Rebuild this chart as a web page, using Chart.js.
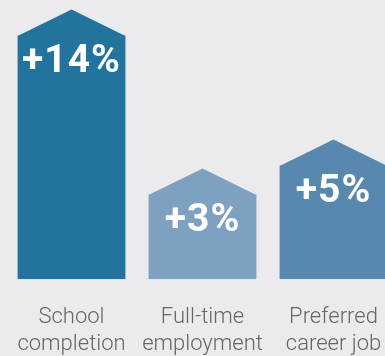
<!DOCTYPE html>
<html>
<head>
<meta charset="utf-8">
<script src="https://cdn.jsdelivr.net/npm/chart.js@4/dist/chart.umd.min.js"></script>
<style>
  html, body { margin: 0; padding: 0; background: #ebebed; overflow: hidden; }
  #wrap { width: 399px; height: 356px; }
</style>
</head>
<body>
<div id="wrap"><canvas id="chart"></canvas></div>
<script>
const categories = [['School', 'completion'], ['Full-time', 'employment'], ['Preferred', 'career job']]
const increases = [14, 3, 5]
const valueLabels = ['+14%', '+3%', '+5%']
const barColors = ['#23739f', '#7ea1c2', '#5988ae']

// roof and percentage text on top of each bar
const housePlugin = {
  id: 'house',
  afterDatasetsDraw(chart) {
    const ctx = chart.ctx
    const meta = chart.getDatasetMeta(0)
    meta.data.forEach((bar, i) => {
      const half = bar.width / 2
      ctx.save()
      ctx.fillStyle = barColors[i]
      ctx.beginPath()
      ctx.moveTo(bar.x - half, bar.y + 0.5)
      ctx.lineTo(bar.x, bar.y - 26)
      ctx.lineTo(bar.x + half, bar.y + 0.5)
      ctx.closePath()
      ctx.fill()
      ctx.fillStyle = '#ffffff'
      ctx.font = 'bold 39px "Roboto", sans-serif'
      ctx.letterSpacing = '1px'
      ctx.textAlign = 'center'
      ctx.textBaseline = 'middle'
      ctx.fillText(valueLabels[i], bar.x, bar.y + 27)
      ctx.restore()
    })
  }
}

new Chart(document.getElementById('chart'), {
  type: 'bar',
  data: {
    labels: categories,
    datasets: [{
      data: increases,
      base: -2.87,
      backgroundColor: barColors,
      borderWidth: 0,
      categoryPercentage: 1,
      barPercentage: 0.823
    }]
  },
  options: {
    responsive: true,
    maintainAspectRatio: false,
    animation: false,
    layout: { padding: { left: 6, right: 0, top: 0, bottom: 0 } },
    plugins: { legend: { display: false }, tooltip: { enabled: false } },
    scales: {
      x: {
        grid: { display: false },
        border: { display: false },
        afterFit(scale) {
          scale.height = 76.7
          scale.paddingLeft = 0
          scale.paddingRight = 0
        },
        ticks: {
          color: '#666666',
          padding: 16,
          font: { family: 'Roboto', size: 22, weight: 300, lineHeight: 1.25 }
        }
      },
      y: {
        display: false,
        min: -2.87,
        max: 16.46
      }
    }
  },
  plugins: [housePlugin]
})
</script>
</body>
</html>
